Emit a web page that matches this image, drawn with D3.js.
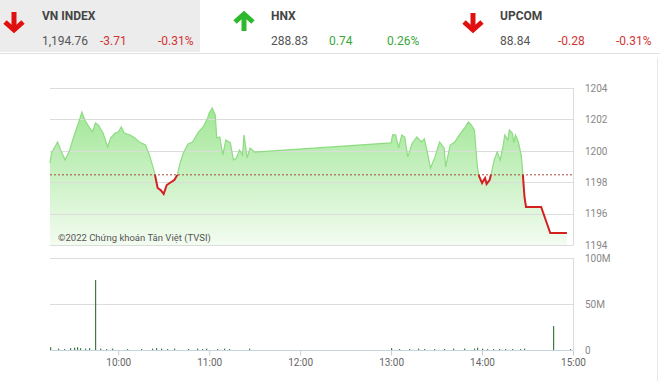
<!DOCTYPE html>
<html>
<head>
<meta charset="utf-8">
<script src="https://cdn.jsdelivr.net/npm/d3@7"></script>
<style>
  body { margin: 0; background: #fff; font-family: Roboto, "Noto Sans", sans-serif; }
</style>
</head>
<body>
<div id="chart"></div>
<script>
// header quotes
const indexNames = ["VN INDEX", "HNX", "UPCOM"];
const indexValues = ["1,194.76", "288.83", "88.84"];
const indexChanges = ["-3.71", "0.74", "-0.28"];
const indexPercents = ["-0.31%", "0.26%", "-0.31%"];
const indexUp = [false, true, false];

// intraday VN-Index
const refClose = 1198.47;
const priceTimes = ["09:15","09:16","09:18","09:20","09:22","09:25","09:28","09:31","09:34","09:36","09:38","09:40","09:43","09:45","09:47","09:50","09:53","09:55","09:58","10:00","10:02","10:04","10:08","10:11","10:14","10:18","10:21","10:24","10:26","10:28","10:30","10:32","10:34","10:37","10:39","10:41","10:43","10:46","10:49","10:53","10:56","10:59","11:00","11:02","11:04","11:05","11:07","11:09","11:11","11:14","11:16","11:18","11:20","11:22","11:23","11:25","11:27","11:30",
  "13:00","13:01","13:03","13:05","13:07","13:09","13:11","13:14","13:17","13:20","13:22","13:24","13:26","13:29","13:32","13:35","13:36","13:39","13:42","13:45","13:49","13:51","13:53","13:55","13:56","13:57","13:58","14:00","14:02","14:03","14:05","14:06","14:08","14:10","14:12","14:14","14:15","14:17","14:18","14:20","14:21","14:22","14:24","14:26","14:27","14:28","14:29","14:39","14:45","14:56"];
const priceValues = [1199.22,1199.86,1200.2,1200.56,1200.05,1199.41,1200.05,1201.01,1201.83,1202.47,1201.96,1201.64,1201.2,1201.77,1201.64,1201.13,1200.24,1200.82,1201.13,1201.2,1201.52,1201.13,1201.01,1200.82,1200.56,1200.37,1199.61,1198.59,1197.63,1197.5,1197.25,1197.82,1197.95,1198.14,1198.46,1199.29,1199.86,1200.43,1200.56,1201.2,1201.52,1202.09,1202.41,1202.73,1202.28,1200.82,1200.88,1199.73,1200.69,1200.5,1199.41,1199.54,1200.05,1199.73,1201.01,1199.54,1200.18,1199.92,
  1200.5,1201.01,1201.01,1200.18,1201.01,1200.88,1199.61,1200.5,1200.88,1200.56,1200.75,1199.86,1198.9,1199.61,1200.56,1200.18,1198.97,1200.37,1200.56,1201.01,1201.52,1201.83,1201.64,1201.32,1200.05,1198.9,1198.39,1197.95,1198.27,1197.89,1198.14,1198.52,1199.41,1199.92,1199.41,1200.37,1201.01,1200.69,1201.32,1201.13,1200.5,1201.01,1200.56,1199.61,1198.39,1197.06,1196.42,1196.42,1194.76,1194.76];

// volume, millions of shares
const volTimes = ["09:15","09:20","09:24","09:28","09:31","09:33","09:35","09:38","09:41","09:45","09:48","09:52","09:56","10:06","10:15","10:22","10:25","10:28","10:32","10:37","10:46","10:52","10:55","10:58","11:05","11:10","11:13","11:26",
  "13:00","13:05","13:12","13:18","13:22","13:28","13:35","13:41","13:48","13:55","13:57","14:00","14:03","14:07","14:11","14:15","14:20","14:25","14:28","14:47","14:58"];
const volValues = [3,1.5,1,2,2.5,3,2,1.5,2,76,1.5,1,1.5,1,1,1.5,2,1.5,1,1.5,1,1.5,1,1.5,1,1.5,1,1.5,
  2,1,1,1.5,1,1,1,1.5,1.5,1.5,2.5,1.5,1,1,1,1,1,1,1.5,26,1];

const priceTicks = [1194, 1196, 1198, 1200, 1202, 1204];
const volTicks = [0, 50, 100];
const hourTicks = ["10:00", "11:00", "12:00", "13:00", "14:00", "15:00"];

const W = 660, H = 381;
const parseT = s => { const [h, m] = s.split(":"); return new Date(2022, 0, 1, +h, +m); };

const svg = d3.select("#chart").append("svg")
  .attr("width", W).attr("height", H)
  .style("font-family", "Roboto, 'Noto Sans', sans-serif");

//---------------- header ----------------
svg.append("rect").attr("x", 0).attr("y", 0).attr("width", 200).attr("height", 52).attr("fill", "#ececec");
svg.append("line").attr("x1", 0).attr("x2", W).attr("y1", 53.5).attr("y2", 53.5).attr("stroke", "#e2e2e2");

const blockX = [0, 229, 458];
indexNames.forEach((name, i) => {
  const bx = blockX[i];
  const g = svg.append("g").attr("transform", `translate(${bx},0)`);
  const col = indexUp[i] ? "#2db82d" : "#e01010";
  const ax = i === 0 ? 14 : 15;
  const top = i === 0 ? 12 : 13, bot = i === 0 ? 31 : 31;
  // arrow
  g.append("line").attr("x1", ax).attr("x2", ax).attr("y1", top).attr("y2", bot)
    .attr("stroke", col).attr("stroke-width", 5);
  const tip = indexUp[i] ? top : bot, s = indexUp[i] ? 1 : -1;
  g.append("path")
    .attr("d", `M${ax - 9},${tip + s * 9}L${ax},${tip + s * 1}L${ax + 9},${tip + s * 9}`)
    .attr("fill", "none").attr("stroke", col).attr("stroke-width", 5);

  const tx = 42;
  g.append("text").attr("x", tx).attr("y", 20).text(name)
    .attr("font-size", 12).attr("font-weight", "bold").attr("fill", "#444");
  const numCol = indexUp[i] ? "#3aa63a" : "#d03434";
  g.append("text").attr("x", tx).attr("y", 45).text(indexValues[i])
    .attr("font-size", 12).attr("fill", "#555");
  g.append("text").attr("x", tx + 58).attr("y", 45).text(indexChanges[i])
    .attr("font-size", 12).attr("fill", numCol);
  g.append("text").attr("x", tx + 116).attr("y", 45).text(indexPercents[i])
    .attr("font-size", 12).attr("fill", numCol);
});

svg.append("line").attr("x1", 657.5).attr("x2", 657.5).attr("y1", 58).attr("y2", H).attr("stroke", "#e6e6e6");

//---------------- scales ----------------
const x = d3.scaleTime().domain([parseT("09:15"), parseT("15:00")]).range([50, 573]);
const y = d3.scaleLinear().domain([1194, 1204]).range([245, 88]);
const yv = d3.scaleLinear().domain([0, 100]).range([350, 258]);

const data = priceTimes.map((t, i) => ({ t: parseT(t), v: priceValues[i] }));
const vol = volTimes.map((t, i) => ({ t: parseT(t), v: volValues[i] }));

//---------------- price panel ----------------
const defs = svg.append("defs");
const grad = defs.append("linearGradient").attr("id", "fillGrad")
  .attr("gradientUnits", "userSpaceOnUse").attr("x1", 0).attr("x2", 0).attr("y1", 105).attr("y2", 245);
grad.append("stop").attr("offset", 0).attr("stop-color", "#9fe694");
grad.append("stop").attr("offset", 1).attr("stop-color", "#f3fcf1");

defs.append("clipPath").attr("id", "clipUp").append("rect")
  .attr("x", 0).attr("y", 0).attr("width", W).attr("height", y(refClose));
defs.append("clipPath").attr("id", "clipDown").append("rect")
  .attr("x", 0).attr("y", y(refClose)).attr("width", W).attr("height", H);

const area = d3.area().x(d => x(d.t)).y0(y(1194)).y1(d => y(d.v));
svg.append("path").datum(data).attr("d", area).attr("fill", "url(#fillGrad)");

// grid
svg.append("g").selectAll("line").data(priceTicks).join("line")
  .attr("x1", 50).attr("x2", 573)
  .attr("y1", d => Math.round(y(d)) + 0.5).attr("y2", d => Math.round(y(d)) + 0.5)
  .attr("stroke", "#dcdcdc");
svg.append("line").attr("x1", 573.5).attr("x2", 573.5).attr("y1", 88).attr("y2", 245.5).attr("stroke", "#dcdcdc");

const line = d3.line().x(d => x(d.t)).y(d => y(d.v));
svg.append("path").datum(data).attr("d", line).attr("fill", "none")
  .attr("stroke", "#8ddc82").attr("stroke-width", 1.2).attr("clip-path", "url(#clipUp)");
svg.append("path").datum(data).attr("d", line).attr("fill", "none")
  .attr("stroke", "#d42020").attr("stroke-width", 2).attr("clip-path", "url(#clipDown)");

svg.append("line").attr("x1", 50).attr("x2", 573)
  .attr("y1", y(refClose)).attr("y2", y(refClose))
  .attr("stroke", "#a84a3a").attr("stroke-width", 1).attr("stroke-dasharray", "2,2");

const yAxis = svg.append("g").attr("transform", "translate(573,0)")
  .call(d3.axisRight(y).tickValues(priceTicks).tickSize(0).tickPadding(12).tickFormat(d3.format("d")));
yAxis.select(".domain").remove();
yAxis.selectAll("text").attr("fill", "#888").attr("font-size", 10).attr("font-family", "Roboto, sans-serif");

svg.append("text").attr("x", 58).attr("y", 241)
  .text("©2022 Chứng khoán Tân Việt (TVSI)")
  .attr("font-size", 9.5).attr("fill", "#555");

//---------------- volume panel ----------------
svg.append("g").selectAll("line").data(volTicks.filter(d => d > 0)).join("line")
  .attr("x1", 50).attr("x2", 573)
  .attr("y1", d => Math.round(yv(d)) + 0.5).attr("y2", d => Math.round(yv(d)) + 0.5)
  .attr("stroke", "#dcdcdc");
svg.append("line").attr("x1", 573.5).attr("x2", 573.5).attr("y1", 258).attr("y2", 350).attr("stroke", "#dcdcdc");

svg.append("g").selectAll("rect").data(vol).join("rect")
  .attr("x", d => Math.round(x(d.t)))
  .attr("y", d => yv(d.v))
  .attr("width", 1.2)
  .attr("height", d => yv(0) - yv(d.v))
  .attr("fill", "#3f7a3f");

const xAxis = svg.append("g").attr("transform", "translate(0,350.5)")
  .call(d3.axisBottom(x).tickValues(hourTicks.map(parseT)).tickSize(5).tickFormat(d3.timeFormat("%H:%M")));
xAxis.select(".domain").attr("stroke", "#c4d4e0").attr("d", "M50,0H573");
xAxis.selectAll(".tick line").attr("stroke", "#ccc");
xAxis.selectAll("text").attr("fill", "#666").attr("font-size", 10).attr("font-family", "Roboto, sans-serif");

const vAxis = svg.append("g").attr("transform", "translate(573,0)")
  .call(d3.axisRight(yv).tickValues(volTicks).tickSize(0).tickPadding(12).tickFormat(d => d === 0 ? "0" : d + "M"));
vAxis.select(".domain").remove();
vAxis.selectAll("text").attr("fill", "#888").attr("font-size", 10).attr("font-family", "Roboto, sans-serif");
</script>
</body>
</html>
